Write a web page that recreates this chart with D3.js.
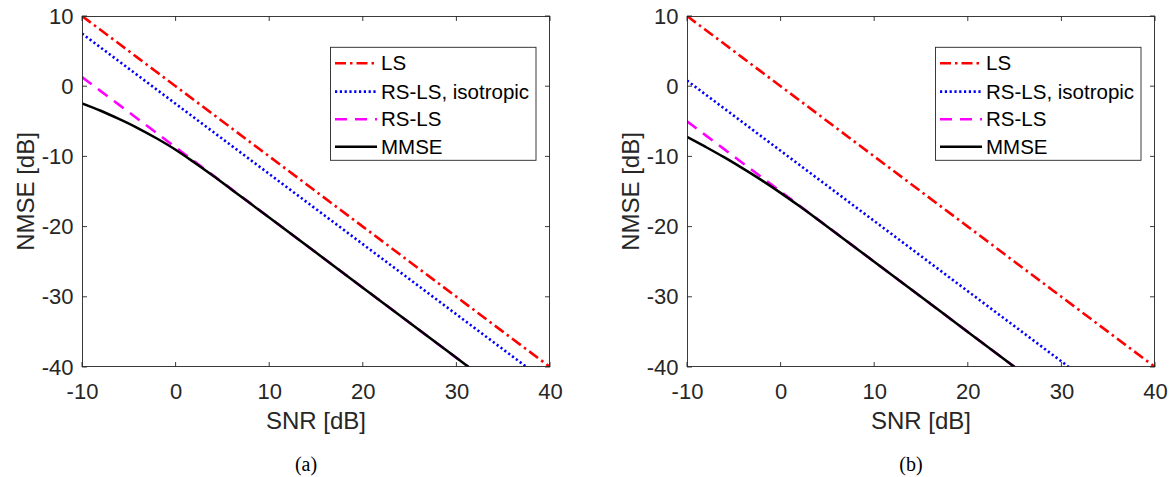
<!DOCTYPE html>
<html>
<head>
<meta charset="utf-8">
<script src="https://cdn.jsdelivr.net/npm/d3@7"></script>
<style>
  html, body { margin: 0; padding: 0; background: #fff; }
  svg { display: block; }
</style>
</head>
<body>
<svg id="chart" width="1172" height="477"></svg>
<script>
// ---------- data ----------
const snrDb = [-10, -8, -6, -4, -2, 0, 2, 4, 6, 8, 10, 15, 20, 25, 30, 35, 40];
const xTicks = [-10, 0, 10, 20, 30, 40];
const yTicks = [10, 0, -10, -20, -30, -40];
const seriesNames = ["LS", "RS-LS, isotropic", "RS-LS", "MMSE"];
const panelCaptions = ["(a)", "(b)"];

// panel (a)
const lsA    = [10, 8, 6, 4, 2, 0, -2, -4, -6, -8, -10, -15, -20, -25, -30, -35, -40];
const isoA   = [7.5, 5.5, 3.5, 1.5, -0.5, -2.5, -4.5, -6.5, -8.5, -10.5, -12.5, -17.5, -22.5, -27.5, -32.5, -37.5, -42.5];
const rslsA  = [1.3, -0.7, -2.7, -4.7, -6.7, -8.7, -10.7, -12.7, -14.7, -16.7, -18.7, -23.7, -28.7, -33.7, -38.7, -43.7, -48.7];
const mmseA  = [-2.45, -3.5, -4.7, -6.0, -7.45, -9.05, -10.87, -12.77, -14.74, -16.72, -18.71, -23.7, -28.7, -33.7, -38.7, -43.7, -48.7];

// panel (b)
const lsB    = [10, 8, 6, 4, 2, 0, -2, -4, -6, -8, -10, -15, -20, -25, -30, -35, -40];
const isoB   = [0.8, -1.2, -3.2, -5.2, -7.2, -9.2, -11.2, -13.2, -15.2, -17.2, -19.2, -24.2, -29.2, -34.2, -39.2, -44.2, -49.2];
const rslsB  = [-5, -7, -9, -11, -13, -15, -17, -19, -21, -23, -25, -30, -35, -40, -45, -50, -55];
const mmseB  = [-7.2, -8.65, -10.15, -11.75, -13.42, -15.2, -17.08, -19.03, -21.01, -23.0, -25, -30, -35, -40, -45, -50, -55];

// ---------- styles ----------
const styles = [
  { color: "#ff0000", dash: "11,4,2.5,4", width: 2.6 },
  { color: "#0000ff", dash: "2.2,2.6", width: 2.6 },
  { color: "#ff00ff", dash: "12,8", width: 2.6 },
  { color: "#000000", dash: null, width: 2.5 }
];

const panels = [
  { left: 82, series: [lsA, isoA, rslsA, mmseA], caption: panelCaptions[0], captionX: 306 },
  { left: 687, series: [lsB, isoB, rslsB, mmseB], caption: panelCaptions[1], captionX: 911 }
];

const plotW = 468, plotTop = 16, plotH = 351;
const axisColor = "#262626";
const font = "Arial, 'Liberation Sans', Helvetica, sans-serif";

const svg = d3.select("#chart");

panels.forEach((p, pi) => {
  const x = d3.scaleLinear().domain([-10, 40]).range([p.left, p.left + plotW]);
  const y = d3.scaleLinear().domain([-40, 10]).range([plotTop + plotH, plotTop]);

  const clipId = "clip" + pi;
  svg.append("clipPath").attr("id", clipId)
    .append("rect")
    .attr("x", p.left).attr("y", plotTop)
    .attr("width", plotW).attr("height", plotH);

  const g = svg.append("g");

  // lines
  const lineGen = d3.line()
    .x((d, i) => x(snrDb[i]))
    .y(d => y(d))
    .curve(d3.curveMonotoneX);

  const lines = g.append("g").attr("clip-path", `url(#${clipId})`);
  p.series.forEach((vals, si) => {
    const st = styles[si];
    lines.append("path")
      .attr("d", lineGen(vals))
      .attr("fill", "none")
      .attr("stroke", st.color)
      .attr("stroke-width", st.width)
      .attr("stroke-dasharray", st.dash)
      .attr("stroke-linejoin", "round");
  });

  // axes (ticks inward, box)
  const tickLen = 5;
  const axG = g.append("g");
  const fmt = d => String(d);
  const bottom = d3.axisBottom(x).tickValues(xTicks).tickFormat(fmt).tickSize(0).tickPadding(16);
  const left = d3.axisLeft(y).tickValues(yTicks).tickFormat(fmt).tickSize(0).tickPadding(8.5);

  const bx = axG.append("g").attr("transform", `translate(0,${plotTop + plotH})`).call(bottom);
  const lx = axG.append("g").attr("transform", `translate(${p.left},0)`).call(left);
  [bx, lx].forEach(a => {
    a.select(".domain").remove();
    a.selectAll("text")
      .attr("font-family", font)
      .attr("font-size", 22)
      .attr("fill", axisColor);
  });
  bx.selectAll("text").attr("dy", "0.71em");

  // box
  axG.append("rect")
    .attr("x", p.left + 0.5).attr("y", plotTop + 0.5)
    .attr("width", plotW - 1).attr("height", plotH - 1)
    .attr("fill", "none").attr("stroke", axisColor).attr("stroke-width", 0.9);

  // inward ticks on all four sides
  xTicks.forEach(t => {
    axG.append("line").attr("x1", x(t)).attr("x2", x(t))
      .attr("y1", plotTop + plotH).attr("y2", plotTop + plotH - tickLen)
      .attr("stroke", axisColor).attr("stroke-width", 0.9);
    axG.append("line").attr("x1", x(t)).attr("x2", x(t))
      .attr("y1", plotTop).attr("y2", plotTop + tickLen)
      .attr("stroke", axisColor).attr("stroke-width", 0.9);
  });
  yTicks.forEach(t => {
    axG.append("line").attr("x1", p.left).attr("x2", p.left + tickLen)
      .attr("y1", y(t)).attr("y2", y(t))
      .attr("stroke", axisColor).attr("stroke-width", 0.9);
    axG.append("line").attr("x1", p.left + plotW).attr("x2", p.left + plotW - tickLen)
      .attr("y1", y(t)).attr("y2", y(t))
      .attr("stroke", axisColor).attr("stroke-width", 0.9);
  });

  // axis labels
  g.append("text")
    .attr("x", p.left + plotW / 2).attr("y", 429)
    .attr("text-anchor", "middle")
    .attr("font-family", font).attr("font-size", 24)
    .attr("fill", axisColor)
    .text("SNR [dB]");
  g.append("text")
    .attr("transform", `translate(${p.left - 48.5},${plotTop + plotH / 2}) rotate(-90)`)
    .attr("text-anchor", "middle")
    .attr("font-family", font).attr("font-size", 24)
    .attr("fill", axisColor)
    .text("NMSE [dB]");

  // caption
  g.append("text")
    .attr("x", p.captionX).attr("y", 471)
    .attr("text-anchor", "middle")
    .attr("font-family", "'Liberation Serif', 'Times New Roman', Times, serif")
    .attr("font-size", 20)
    .attr("fill", "#000")
    .text(p.caption);

  // legend
  const lgX = p.left + plotW - 14 - 205.5, lgY = 47.3;
  const lg = g.append("g");
  lg.append("rect")
    .attr("x", lgX).attr("y", lgY)
    .attr("width", 205.5).attr("height", 113)
    .attr("fill", "#fff").attr("stroke", axisColor).attr("stroke-width", 0.9);
  const rowY = [63.3, 91.6, 119.3, 146.7];
  seriesNames.forEach((name, si) => {
    const st = styles[si];
    lg.append("line")
      .attr("x1", lgX + 4.5).attr("x2", lgX + 46.5)
      .attr("y1", rowY[si]).attr("y2", rowY[si])
      .attr("stroke", st.color).attr("stroke-width", st.width)
      .attr("stroke-dasharray", st.dash);
    lg.append("text")
      .attr("x", lgX + 50.5).attr("y", rowY[si])
      .attr("dy", "0.35em")
      .attr("font-family", font).attr("font-size", 20.5)
      .attr("fill", "#000")
      .text(name);
  });
});
</script>
</body>
</html>
